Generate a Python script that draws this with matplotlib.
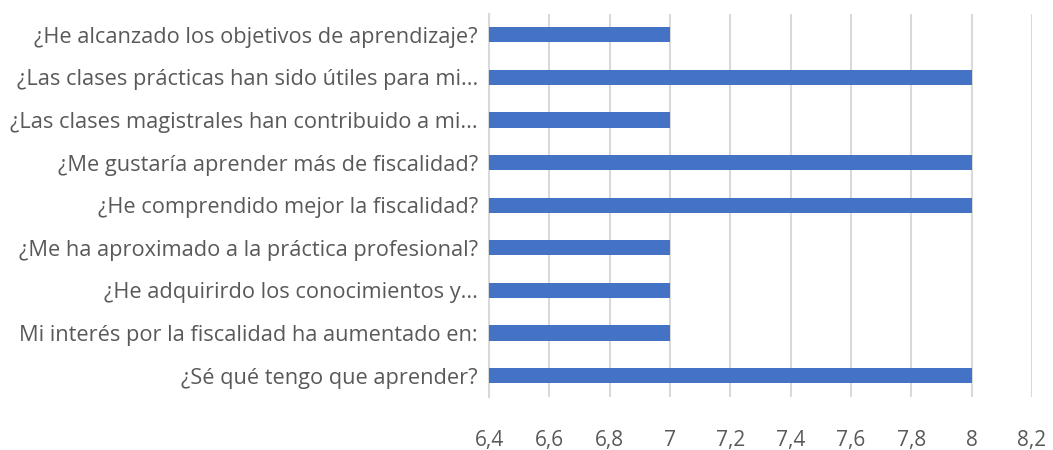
import matplotlib.pyplot as plt
from matplotlib.ticker import FuncFormatter

preguntas = [
    '¿He alcanzado los objetivos de aprendizaje?',
    '¿Las clases prácticas han sido útiles para mi...',
    '¿Las clases magistrales han contribuido a mi...',
    '¿Me gustaría aprender más de fiscalidad?',
    '¿He comprendido mejor la fiscalidad?',
    '¿Me ha aproximado a la práctica profesional?',
    '¿He adquirirdo los conocimientos y...',
    'Mi interés por la fiscalidad ha aumentado en:',
    '¿Sé qué tengo que aprender?',
]
valores = [7, 8, 7, 8, 8, 7, 7, 7, 8]
ticks = [6.4, 6.6, 6.8, 7.0, 7.2, 7.4, 7.6, 7.8, 8.0, 8.2]

plt.rcParams['font.family'] = ['Open Sans', 'DejaVu Sans']

fig = plt.figure(figsize=(10.53, 4.5), dpi=100)
ax = fig.add_axes([0.4644, 0.118, 0.5156, 0.852])

base = 6.4
ax.barh(range(len(preguntas)), [v - base for v in valores], left=base,
        height=0.36, color='#4472C4', zorder=3)

ax.set_xlim(6.4, 8.2)
ax.set_ylim(len(preguntas) - 0.5, -0.5)
ax.set_xticks(ticks)
ax.xaxis.set_major_formatter(FuncFormatter(
    lambda x, p: ('%g' % round(x, 1)).replace('.', ',')))
ax.set_yticks(range(len(preguntas)))
ax.set_yticklabels(preguntas)

ax.grid(axis='x', color='#D9D9D9', linewidth=1.5, zorder=0)
for s in ['top', 'right', 'bottom']:
    ax.spines[s].set_visible(False)
ax.spines['left'].set_color('#D9D9D9')
ax.spines['left'].set_linewidth(1.5)

ax.tick_params(axis='y', length=0, pad=8, labelsize=15.7, labelcolor='#595959')
ax.tick_params(axis='x', length=0, pad=24, labelsize=15, labelcolor='#595959')

plt.savefig('out.png', dpi=100)
